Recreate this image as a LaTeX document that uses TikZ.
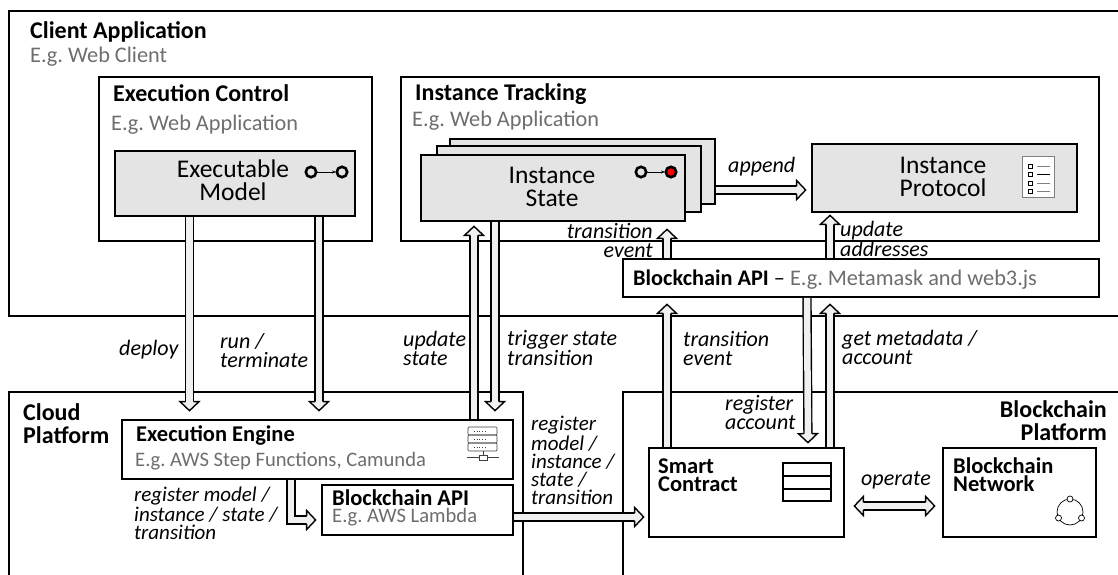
\documentclass[tikz,border=0pt]{standalone}
\usepackage{fontspec}
\setmainfont{Carlito}
\usetikzlibrary{arrows.meta}
\definecolor{boxgray}{HTML}{E4E4E4}
\definecolor{flowgray}{HTML}{F0F0F0}
\definecolor{textgray}{HTML}{6E6E6E}
\pgfdeclarearrow{name=Flowhead, cache=false,
  setup code={\pgfarrowssettipend{1.5pt}\pgfarrowssetlineend{-8pt}\pgfarrowssetvisualbackend{-9pt}\pgfarrowssetbackend{-9pt}},
  drawing code={\pgfsetdash{}{0pt}\pgfsetmiterjoin\pgfsetlinewidth{1.4pt}\pgfsetfillcolor{flowgray}
    \pgfpathmoveto{\pgfqpoint{-9pt}{4pt}}\pgfpathlineto{\pgfqpoint{-9pt}{9.5pt}}\pgfpathlineto{\pgfqpoint{0pt}{0pt}}
    \pgfpathlineto{\pgfqpoint{-9pt}{-9.5pt}}\pgfpathlineto{\pgfqpoint{-9pt}{-4pt}}\pgfusepathqfillstroke}}
\tikzset{box/.style={draw=black, line width=1.7pt, inner sep=0pt, rectangle}}
\tikzset{graybox/.style={box, fill=boxgray}}
\tikzset{flow/.style={draw=black, line width=1.4pt, double=flowgray, double distance=6.5pt, -{Flowhead}}}
\tikzset{flowboth/.style={flow, {Flowhead}-{Flowhead}}}
\tikzset{lbl/.style={anchor=base west, inner sep=0pt, align=left}}
\tikzset{head/.style={lbl, font=\fontsize{24}{23}\selectfont\bfseries}}
\tikzset{headsmall/.style={lbl, font=\fontsize{22.5}{18}\selectfont\bfseries}}
\tikzset{eg/.style={lbl, text=textgray, font=\fontsize{22.3}{18}\selectfont}}
\tikzset{egsmall/.style={lbl, text=textgray, font=\fontsize{20.6}{18}\selectfont}}
\tikzset{flowlabel/.style={lbl, font=\fontsize{22}{18.5}\selectfont\itshape}}
\tikzset{flowsmall/.style={lbl, font=\fontsize{21}{18}\selectfont\itshape}}
\tikzset{inner/.style={anchor=base, inner sep=0pt, align=center, font=\fontsize{25.5}{23}\selectfont}}
\tikzset{icon/.style={draw=black, line width=1pt}}
\tikzset{thinicon/.style={draw=black!75, line width=.7pt}}

\begin{document}
\frenchspacing
\begin{tikzpicture}[x=1pt,y=-1pt]
		\useasboundingbox (0,0) rectangle (1118,575);
		% outer boxes
		\node[box, minimum width=1130pt, minimum height=305pt] (client) at (574,163.5) {};
		\node[box, minimum width=514pt, minimum height=200pt] (cloud) at (266,492) {};
		\node[box, minimum width=520pt, minimum height=200pt] (chain) at (883,492) {};
		\node[box, minimum width=273pt, minimum height=164pt] (control) at (235.5,159) {};
		\node[box, minimum width=698pt, minimum height=164pt] (tracking) at (750,159) {};
		% inner boxes
		\node[graybox, minimum width=240pt, minimum height=65pt] (model) at (235,183.5) {};
		\node[graybox, minimum width=265pt, minimum height=65pt] (stateback) at (582.5,171.5) {};
		\node[graybox, minimum width=264pt, minimum height=66pt] (statemid) at (569,179) {};
		\node[graybox, minimum width=264pt, minimum height=66pt] (state) at (553,188) {};
		\node[graybox, minimum width=265pt, minimum height=68pt] (protocol) at (944.5,178) {};
		\node[box, fill=white, minimum width=476pt, minimum height=38pt] (apitop) at (861,278) {};
		\node[box, fill=white, minimum width=391pt, minimum height=59pt] (engine) at (317.5,449.5) {};
		\node[box, fill=white, minimum width=191pt, minimum height=50pt] (apilow) at (417.5,510) {};
		\node[box, fill=white, minimum width=195pt, minimum height=89pt] (contract) at (746.5,492.5) {};
		\node[box, fill=white, minimum width=153pt, minimum height=89pt] (network) at (1019.5,492.5) {};
		% connectors
		\draw[flow, shorten >=7pt] ([xshift=-45.5pt]model.south) -- ([xshift=-128pt]engine.north);
		\draw[flow, shorten >=7pt] ([xshift=84pt]model.south) -- ([xshift=1.5pt]engine.north);
		\draw[flow, shorten >=3pt] ([xshift=156.5pt]engine.north) -- ([xshift=-79pt]state.south);
		\draw[flow, shorten >=7pt] ([xshift=-58pt]state.south) -- ([xshift=177.5pt]engine.north);
		\draw[flow, shorten >=4pt] ([yshift=-18.5pt]stateback.east) -- ([yshift=-12pt]protocol.west);
		\draw[flow, shorten >=6pt] ([xshift=-194pt]apitop.north) -- ([xshift=114pt]state.south);
		\draw[flow, shorten >=1pt] ([xshift=-31pt]apitop.north) -- ([xshift=-114.5pt]protocol.south);
		\draw[flow, shorten >=5pt] ([xshift=-79.5pt]contract.north) -- ([xshift=-194pt]apitop.south);
		\draw[flow, shorten >=5pt] ([xshift=83.5pt]contract.north) -- ([xshift=-31pt]apitop.south);
		\draw[flow, shorten >=3pt] ([xshift=-54pt]apitop.south) -- ([xshift=61.5pt]contract.north);
		\draw[flow, shorten >=3pt] ([yshift=-7pt]apilow.east) -- ([yshift=-24.5pt]contract.west);
		\draw[flowboth, shorten >=6pt, shorten <=8pt] ([yshift=-13.5pt]contract.east) -- ([yshift=-13.5pt]network.west);
		\draw[flow, shorten >=4pt] ([xshift=-26.5pt]engine.south) |- ([yshift=-10pt]apilow.west);
		% titles
		\node[head] (clienttitle) at (30,39) {Client Application};
		\node[eg] (clienteg) at (30,63) {E.g. Web Client};
		\node[head] (controltitle) at (113,102) {Execution Control};
		\node[eg] (controleg) at (111,131) {E.g. Web Application};
		\node[head] (trackingtitle) at (415,101) {Instance Tracking};
		\node[eg] (trackingeg) at (412,127) {E.g. Web Application};
		\node[inner] (modeltext) at (233,200) {Executable\\Model};
		\node[inner] (statetext) at (552,206) {Instance\\State};
		\node[inner] (protocoltext) at (943,196) {Instance\\Protocol};
		\node[lbl, font=\fontsize{22.3}{18}\selectfont] (apitoptext) at (633,285) {\textbf{Blockchain API} -- \textcolor{textgray}{E.g. Metamask and web3.js}};
		\node[head] (cloudtitle) at (23,443) {Cloud\\Platform};
		\node[headsmall] (enginetitle) at (136,441) {Execution Engine};
		\node[egsmall] (engineeg) at (135,466) {E.g. AWS Step Functions, Camunda};
		\node[headsmall] (apilowtitle) at (332,505) {Blockchain API};
		\node[egsmall] (apiloweg) at (332,522) {E.g. AWS Lambda};
		\node[headsmall] (contracttitle) at (658,491) {Smart\\Contract};
		\node[headsmall] (networktitle) at (953,491) {Blockchain\\Network};
		\node[head, anchor=base east, align=right] (chaintitle) at (1107,440) {Blockchain\\Platform};
		% flow labels
		\node[flowlabel] (deploylabel) at (119,355) {deploy};
		\node[flowlabel] (runlabel) at (220,367) {run /\\terminate};
		\node[flowlabel] (updatelabel) at (403,365) {update\\state};
		\node[flowlabel] (triggerlabel) at (507,365) {trigger state\\transition};
		\node[flowlabel] (eventlabel) at (683,365) {transition\\event};
		\node[flowlabel] (metadatalabel) at (842,364) {get metadata /\\account};
		\node[flowlabel] (accountlabel) at (725,429) {register\\account};
		\node[flowlabel] (operatelabel) at (861,485) {operate};
		\node[flowlabel] (appendlabel) at (728,172) {append};
		\node[flowlabel, anchor=base east, align=right] (toplabel) at (653,257) {transition\\event};
		\node[flowlabel] (addresslabel) at (840,256) {update\\addresses};
		\node[flowsmall] (engineapilabel) at (134,539) {register model /\\instance / state /\\transition};
		\node[flowsmall] (apicontractlabel) at (531,504) {register\\model /\\instance /\\state /\\transition};
		% icons
		\draw[icon, line width=2.6pt] (311,172) circle (5.2);
		\draw[icon, line width=2.6pt] (342,172) circle (5.2);
		\draw[icon, -{Stealth[length=4pt]}] (317,172) -- (336,172);
		\draw[icon, line width=2.6pt] (641,172) circle (5.2);
		\draw[icon, line width=2.6pt, fill=red] (671,172) circle (5.2);
		\draw[icon, -{Stealth[length=4pt]}] (647,172) -- (665,172);
		\draw[draw=gray, fill=white, line width=1pt] (1022,156) rectangle (1054,197);
		\draw[icon, fill=white, line width=.8pt] (1028,164) rectangle (1032,168);
		\draw[icon, fill=white, line width=.8pt] (1028,172.5) rectangle (1032,176.5);
		\draw[icon, fill=white, line width=.8pt] (1028,181) rectangle (1032,185);
		\draw[icon, fill=white, line width=.8pt] (1028,189) rectangle (1032,193);
		\draw[gray, line width=.9pt] (1037,166) -- (1050,166);
		\draw[black, line width=.9pt] (1037,174.5) -- (1050,174.5);
		\draw[gray, line width=.9pt] (1037,183) -- (1050,183);
		\draw[gray, line width=.9pt] (1037,191) -- (1050,191);
		\draw[thinicon, rounded corners=1pt] (468,427) rectangle (497,435);
		\draw[thinicon, rounded corners=1pt] (468,435) rectangle (497,443);
		\draw[thinicon, rounded corners=1pt] (468,443) rectangle (497,451);
		\draw[thinicon, dotted, line width=1pt] (474,431) -- (486,431);
		\draw[thinicon, dotted, line width=1pt] (474,439) -- (486,439);
		\draw[thinicon, dotted, line width=1pt] (474,447) -- (486,447);
		\draw[thinicon] (483,451) -- (483,455);
		\draw[thinicon] (467,457.5) -- (479,457.5);
		\draw[thinicon] (487,457.5) -- (499,457.5);
		\draw[thinicon] (479,455) rectangle (487,460);
		\draw[box, line width=1.3pt] (783,463) rectangle (831,501);
		\draw[box, line width=1.3pt] (783,476) -- (831,476);
		\draw[box, line width=1.3pt] (783,489) -- (831,489);
		\draw[icon, line width=.7pt] (1070,512) circle (13);
		\draw[icon, line width=.7pt, fill=white] (1070,499) circle (3);
		\draw[icon, line width=.7pt, fill=white] (1058.5,518) circle (3);
		\draw[icon, line width=.7pt, fill=white] (1081.5,518) circle (3);
\end{tikzpicture}
\end{document}
